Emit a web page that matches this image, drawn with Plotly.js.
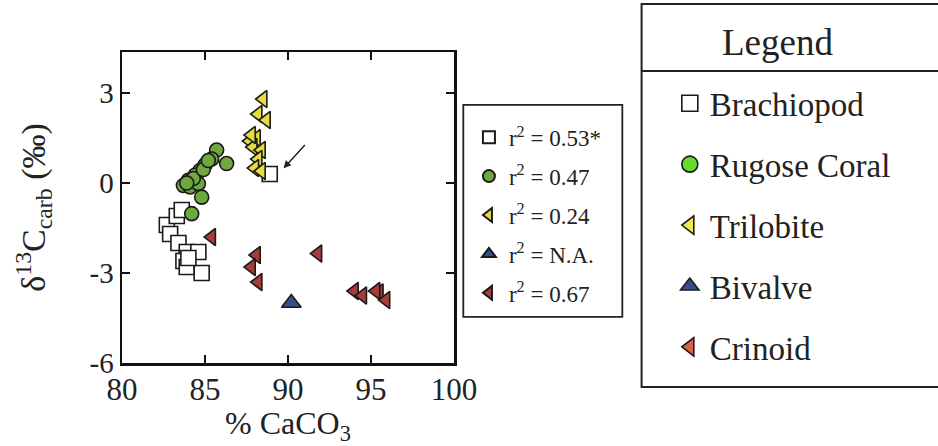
<!DOCTYPE html>
<html>
<head>
<meta charset="utf-8">
<script src="https://cdn.plot.ly/plotly-3.0.1.min.js"></script>
<style>html,body{margin:0;padding:0;background:#fff;}#chart{width:938px;height:446px;}</style>
</head>
<body>
<div id="chart"></div>
<script>
// ---- data ----
var brachX = [82.7, 82.9, 83.3, 83.6, 83.4, 83.9, 84.6, 83.7, 83.9, 84.8, 84.0, 88.9];
var brachY = [-1.4, -1.7, -1.1, -0.9, -2.0, -2.3, -2.3, -2.6, -2.8, -3.0, -2.5, 0.3];

var coralX = [85.7, 86.3, 85.4, 85.0, 84.7, 84.4, 84.0, 83.7, 84.1, 84.6, 84.8, 84.2, 84.3, 84.9, 85.2, 83.9];
var coralY = [1.1, 0.65, 0.8, 0.6, 0.42, 0.26, 0.09, -0.08, -0.13, -0.02, -0.47, -1.02, 0.15, 0.45, 0.75, 0.0];

var triloX = [88.5, 88.2, 88.7, 87.7, 88.1, 87.9, 88.4, 88.2, 88.0, 88.4, 87.8];
var triloY = [2.8, 2.3, 2.1, 1.4, 1.5, 1.2, 1.1, 0.8, 0.5, 0.4, 1.6];

var bivalveX = [90.2];
var bivalveY = [-4.0];

var crinoidX = [85.4, 88.1, 87.8, 88.2, 91.8, 94.0, 94.5, 95.5, 95.9, 95.3];
var crinoidY = [-1.8, -2.4, -2.8, -3.3, -2.35, -3.6, -3.75, -3.65, -3.9, -3.6];

var fitLabels = ["r<sup>2</sup> = 0.53*", "r<sup>2</sup> = 0.47", "r<sup>2</sup> = 0.24", "r<sup>2</sup> = N.A.", "r<sup>2</sup> = 0.67"];
var taxa = ["Brachiopod", "Rugose Coral", "Trilobite", "Bivalve", "Crinoid"];
var xTicks = [80, 85, 90, 95, 100];
var yTicks = [-6, -3, 0, 3];

// ---- styles ----
var FONT = "Liberation Serif";
var OUT = "#1a1a1a";
var plotFill = ["#ffffff", "#6fa83e", "#e6dc3c", "#34508a", "#a83c36"];
var keyFill = ["#ffffff", "#66dd2e", "#f2ea4a", "#34508a", "#d9604c"];
var symbols = ["square", "circle", "triangle-left", "triangle-up", "triangle-left"];
var sizes = [15, 14, 15, 17, 15];

var xs = [brachX, coralX, triloX, bivalveX, crinoidX];
var ys = [brachY, coralY, triloY, bivalveY, crinoidY];

var traces = [];
for (var i = 0; i < 5; i++) {
  traces.push({
    type: "scatter", mode: "markers",
    x: xs[i], y: ys[i],
    name: fitLabels[i],
    legend: "legend", legendgroup: "g" + i,
    marker: {symbol: symbols[i], size: sizes[i], color: plotFill[i],
             line: {color: OUT, width: 1.6}},
    hoverinfo: "skip"
  });
}
// key entries for the second (taxon) legend: no points drawn
for (var j = 0; j < 5; j++) {
  traces.push({
    type: "scatter", mode: "markers",
    x: [null], y: [null],
    name: taxa[j],
    legend: "legend2", legendgroup: "k" + j,
    marker: {symbol: symbols[j], size: 16, color: keyFill[j],
             line: {color: OUT, width: 1.6}},
    hoverinfo: "skip"
  });
}

var layout = {
  width: 938, height: 446,
  margin: {l: 122, r: 484, t: 52, b: 83, autoexpand: false},
  paper_bgcolor: "#ffffff", plot_bgcolor: "#ffffff",
  font: {family: FONT, color: "#222"},
  showlegend: true,
  xaxis: {
    range: [80, 100], tickvals: xTicks, ticktext: xTicks.map(String),
    showline: true, linecolor: "#111", linewidth: 2.5, mirror: "ticks",
    ticks: "inside", ticklen: 8, tickwidth: 2, tickcolor: "#111",
    showgrid: false, zeroline: false, ticklabelstandoff: -3,
    tickfont: {family: FONT, size: 31, color: "#222"},
    title: {text: "% CaCO<sub>3</sub>", font: {family: FONT, size: 32, color: "#222"}, standoff: 8}
  },
  yaxis: {
    range: [-6, 4.37], tickvals: yTicks, ticktext: yTicks.map(String),
    showline: true, linecolor: "#111", linewidth: 2.5, mirror: "ticks",
    ticks: "inside", ticklen: 8, tickwidth: 2, tickcolor: "#111",
    showgrid: false, zeroline: false,
    tickfont: {family: FONT, size: 29, color: "#222"},
    title: {text: "δ<sup>13</sup>C<sub>carb</sub> (‰)", font: {family: FONT, size: 34, color: "#222"}, standoff: 34}
  },
  legend: {
    x: 1.045, y: 0.795, xanchor: "left", yanchor: "top",
    bgcolor: "rgba(0,0,0,0)", borderwidth: 0,
    font: {family: FONT, size: 23, color: "#222"},
    itemsizing: "constant", tracegroupgap: 6,
    traceorder: "grouped"
  },
  legend2: {
    x: 1.65, y: 0.925, xanchor: "left", yanchor: "top",
    bgcolor: "rgba(0,0,0,0)", borderwidth: 0,
    font: {family: FONT, size: 33, color: "#222"},
    itemsizing: "trace", tracegroupgap: 15,
    traceorder: "grouped"
  },
  shapes: [
    {type: "rect", xref: "paper", yref: "paper", x0: 1.028, x1: 1.507, y0: 0.148, y1: 0.830,
     line: {color: "#222", width: 1.8}, fillcolor: "rgba(0,0,0,0)"},
    {type: "rect", xref: "paper", yref: "paper", x0: 1.565, x1: 2.7, y0: -0.077, y1: 1.154,
     line: {color: "#222", width: 2}, fillcolor: "rgba(0,0,0,0)"},
    {type: "line", xref: "paper", yref: "paper", x0: 1.565, x1: 2.7, y0: 0.939, y1: 0.939,
     line: {color: "#222", width: 2}}
  ],
  annotations: [
    {xref: "paper", yref: "paper", x: 1.973, y: 1.029, text: "Legend", showarrow: false,
     font: {family: FONT, size: 37, color: "#222"}, xanchor: "center", yanchor: "middle"},
    {xref: "x", yref: "y", axref: "x", ayref: "y", x: 89.73, y: 0.49, ax: 91.1, ay: 1.32,
     text: "", showarrow: true, arrowhead: 2, arrowsize: 1, arrowwidth: 1.5, arrowcolor: "#222"}
  ]
};

Plotly.newPlot("chart", traces, layout, {displayModeBar: false, staticPlot: true});
</script>
</body>
</html>
